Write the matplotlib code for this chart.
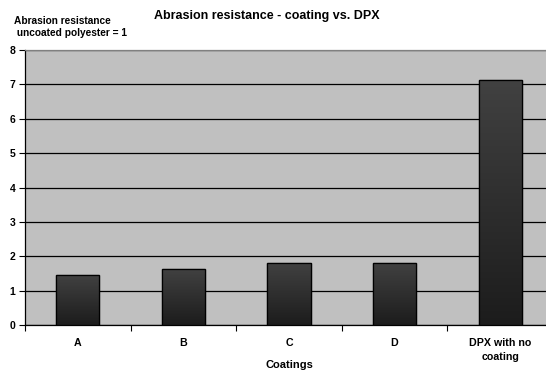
import matplotlib
matplotlib.use("Agg")
import matplotlib.pyplot as plt
import numpy as np
from matplotlib.colors import LinearSegmentedColormap

categories = ["A", "B", "C", "D", "DPX with no\ncoating"]
values = [1.45, 1.62, 1.79, 1.79, 7.12]
yticks = [0, 1, 2, 3, 4, 5, 6, 7, 8]

plt.rcParams['font.family'] = ['Liberation Sans', 'DejaVu Sans']
plt.rcParams['font.weight'] = 'bold'

W, H = 546, 373
fig = plt.figure(figsize=(W / 100, H / 100), dpi=100)
ax = fig.add_axes([25 / W, (H - 325) / H, 528 / W, 275 / H])
ax.set_facecolor('#c0c0c0')

x = np.arange(len(categories))
bw = 0.41
bars = ax.bar(x, values, width=bw, color='#2e2e2e', edgecolor='black', linewidth=0.9, zorder=3)

cmap = LinearSegmentedColormap.from_list('g', ['#1c1c1c', '#414141'])
grad = np.linspace(0, 1, 256).reshape(-1, 1)
for b in bars:
    x0, y0 = b.get_x(), b.get_y()
    w, h = b.get_width(), b.get_height()
    im = ax.imshow(grad, cmap=cmap, origin='lower', aspect='auto',
                   extent=[x0, x0 + w, y0, y0 + h], zorder=3.5, interpolation='bilinear')
    im.set_clip_path(b)
    ax.add_patch(plt.Rectangle((x0, y0), w, h, fill=False, edgecolor='black', linewidth=0.9, zorder=4))

ax.set_xlim(-0.5, len(categories) - 0.5)
ax.set_ylim(0, 8)
ax.set_yticks(yticks)
ax.set_yticklabels([str(t) for t in yticks], fontsize=7.5, fontweight='bold')
ax.yaxis.grid(True, color='black', linewidth=0.9, zorder=1)
ax.set_axisbelow(True)

ax.set_xticks(x)
ax.set_xticklabels(categories, fontsize=7.7, fontweight='bold', linespacing=1.55)
ax.set_xticks(np.arange(len(categories) + 1) - 0.5, minor=True)
ax.tick_params(axis='x', which='major', length=0, pad=9)
ax.tick_params(axis='x', which='minor', length=4, width=0.8, direction='out', color='black')
ax.tick_params(axis='y', length=4, width=0.8, direction='out', color='black', pad=3)

ax.spines['right'].set_visible(False)
ax.spines['top'].set_color('#808080')
ax.spines['top'].set_linewidth(0.9)
ax.spines['left'].set_color('black')
ax.spines['left'].set_linewidth(0.9)
ax.spines['bottom'].set_color('black')
ax.spines['bottom'].set_linewidth(0.9)

fig.text(289 / W, 1 - 365 / H, 'Coatings', fontsize=8, fontweight='bold',
         ha='center', va='center')

fig.text(267 / W, 1 - 16 / H, 'Abrasion resistance - coating vs. DPX', fontsize=9,
         fontweight='bold', ha='center', va='center')
fig.text(14 / W, 1 - 27 / H, 'Abrasion resistance\n uncoated polyester = 1', fontsize=7.3,
         fontweight='bold', ha='left', va='center', linespacing=1.35, multialignment='left')

fig.savefig('out.png', dpi=100)
